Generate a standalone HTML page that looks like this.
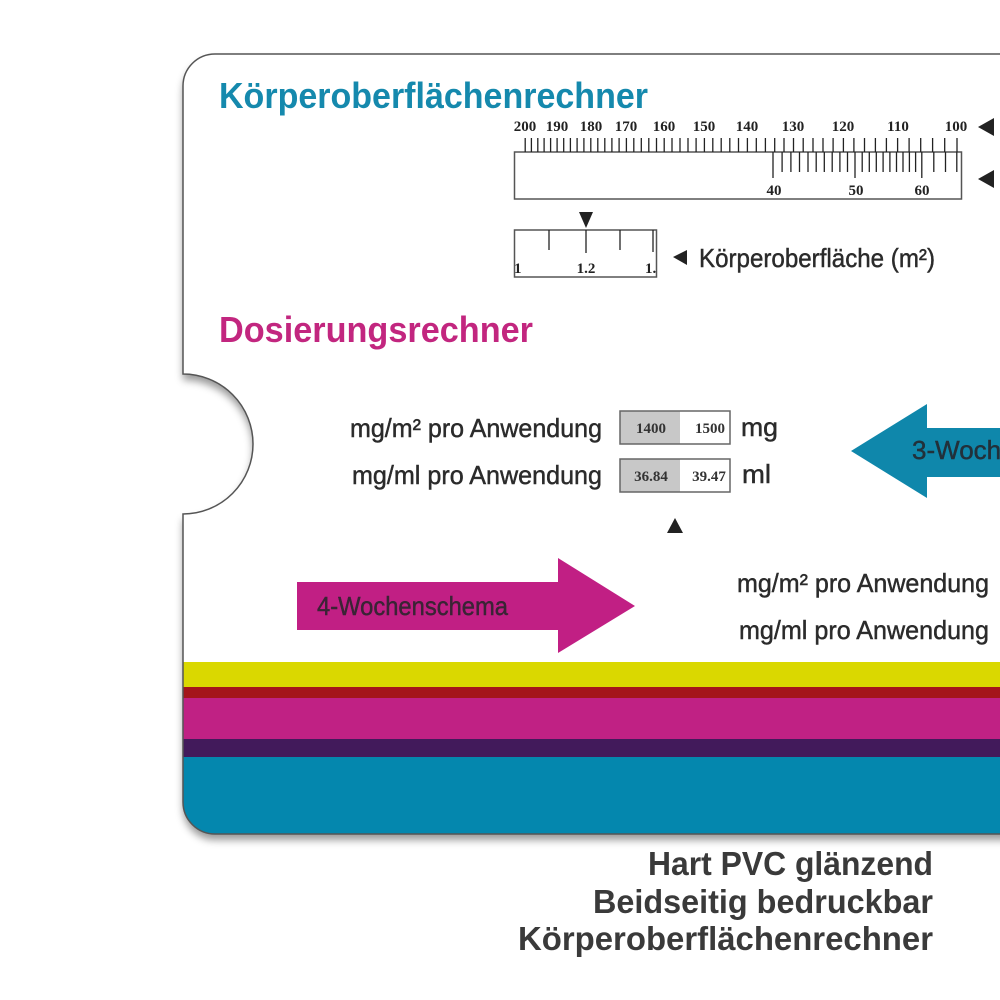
<!DOCTYPE html>
<html>
<head>
<meta charset="utf-8">
<style>
html,body{margin:0;padding:0;background:#fff;}
body{width:1000px;height:1000px;overflow:hidden;}
svg{display:block;}
.lbl{font-family:"Liberation Sans",sans-serif;font-size:26px;fill:#2b2b2b;stroke:#2b2b2b;stroke-width:0.45px;}
.num{font-family:"Liberation Serif",serif;font-weight:bold;font-size:15px;fill:#222;}
.bnum{font-family:"Liberation Serif",serif;font-weight:bold;font-size:15px;fill:#333;}
.t{stroke:#222;stroke-width:1.3;}
.big{font-family:"Liberation Sans",sans-serif;font-weight:bold;font-size:33px;fill:#3a3a3a;}
</style>
</head>
<body>
<svg width="1000" height="1000" viewBox="0 0 1000 1000" xmlns="http://www.w3.org/2000/svg">
<defs>
  <clipPath id="card"><path d="M1030 54 H215 A32 32 0 0 0 183 86 V374 A70 70 0 0 1 183 514 V802 A32 32 0 0 0 215 834 H1030 Z"/></clipPath>
  <filter id="sh" x="-10%" y="-10%" width="130%" height="130%">
    <feDropShadow dx="0" dy="6" stdDeviation="4" flood-color="#000" flood-opacity="0.4"/>
  </filter>
</defs>

<!-- card -->
<path d="M1030 54 H215 A32 32 0 0 0 183 86 V374 A70 70 0 0 1 183 514 V802 A32 32 0 0 0 215 834 H1030 Z" fill="#fff" filter="url(#sh)"/>
<g clip-path="url(#card)">
  <rect x="170" y="662" width="860" height="25" fill="#dad800"/>
  <rect x="170" y="687" width="860" height="11" fill="#a4151a"/>
  <rect x="170" y="698" width="860" height="41" fill="#c02184"/>
  <rect x="170" y="739" width="860" height="18" fill="#421a5b"/>
  <rect x="170" y="757" width="860" height="80" fill="#0487ae"/>
</g>
<path d="M1030 54 H215 A32 32 0 0 0 183 86 V374 A70 70 0 0 1 183 514 V802 A32 32 0 0 0 215 834 H1030 Z" fill="none" stroke="#555" stroke-width="1.5"/>

<!-- Title -->
<text x="219" y="108" font-family="Liberation Sans, sans-serif" font-weight="bold" font-size="36" fill="#1589ad" textLength="429" lengthAdjust="spacingAndGlyphs">Körperoberflächenrechner</text>

<!-- top ruler labels -->
<g class="num" text-anchor="middle">
  <text x="525" y="131">200</text>
  <text x="557" y="131">190</text>
  <text x="591" y="131">180</text>
  <text x="626" y="131">170</text>
  <text x="664" y="131">160</text>
  <text x="704" y="131">150</text>
  <text x="747" y="131">140</text>
  <text x="793" y="131">130</text>
  <text x="843" y="131">120</text>
  <text x="898" y="131">110</text>
  <text x="956" y="131">100</text>
</g>
<!-- right arrows -->
<polygon points="978,127 994,118 994,136" fill="#222"/>
<polygon points="978,179 994,170 994,188" fill="#222"/>

<!-- ruler box -->
<rect x="514.5" y="152" width="447" height="47" fill="#fff" stroke="#555" stroke-width="1.5"/>

<!-- upper ticks (every 2 cm) -->
<g class="t">
<line x1="957" y1="138" x2="957" y2="152"/>
<line x1="944.7" y1="138" x2="944.7" y2="152"/>
<line x1="932.6" y1="138" x2="932.6" y2="152"/>
<line x1="920.7" y1="138" x2="920.7" y2="152"/>
<line x1="909.1" y1="138" x2="909.1" y2="152"/>
<line x1="897.6" y1="138" x2="897.6" y2="152"/>
<line x1="886.4" y1="138" x2="886.4" y2="152"/>
<line x1="875.4" y1="138" x2="875.4" y2="152"/>
<line x1="864.5" y1="138" x2="864.5" y2="152"/>
<line x1="853.9" y1="138" x2="853.9" y2="152"/>
<line x1="843.4" y1="138" x2="843.4" y2="152"/>
<line x1="833.1" y1="138" x2="833.1" y2="152"/>
<line x1="823" y1="138" x2="823" y2="152"/>
<line x1="813" y1="138" x2="813" y2="152"/>
<line x1="803.2" y1="138" x2="803.2" y2="152"/>
<line x1="793.5" y1="138" x2="793.5" y2="152"/>
<line x1="784" y1="138" x2="784" y2="152"/>
<line x1="774.7" y1="138" x2="774.7" y2="152"/>
<line x1="765.4" y1="138" x2="765.4" y2="152"/>
<line x1="756.3" y1="138" x2="756.3" y2="152"/>
<line x1="747.4" y1="138" x2="747.4" y2="152"/>
<line x1="738.5" y1="138" x2="738.5" y2="152"/>
<line x1="729.8" y1="138" x2="729.8" y2="152"/>
<line x1="721.2" y1="138" x2="721.2" y2="152"/>
<line x1="712.8" y1="138" x2="712.8" y2="152"/>
<line x1="704.4" y1="138" x2="704.4" y2="152"/>
<line x1="696.1" y1="138" x2="696.1" y2="152"/>
<line x1="688" y1="138" x2="688" y2="152"/>
<line x1="680" y1="138" x2="680" y2="152"/>
<line x1="672" y1="138" x2="672" y2="152"/>
<line x1="664.2" y1="138" x2="664.2" y2="152"/>
<line x1="656.5" y1="138" x2="656.5" y2="152"/>
<line x1="648.8" y1="138" x2="648.8" y2="152"/>
<line x1="641.3" y1="138" x2="641.3" y2="152"/>
<line x1="633.8" y1="138" x2="633.8" y2="152"/>
<line x1="626.4" y1="138" x2="626.4" y2="152"/>
<line x1="619.1" y1="138" x2="619.1" y2="152"/>
<line x1="611.9" y1="138" x2="611.9" y2="152"/>
<line x1="604.8" y1="138" x2="604.8" y2="152"/>
<line x1="597.8" y1="138" x2="597.8" y2="152"/>
<line x1="590.8" y1="138" x2="590.8" y2="152"/>
<line x1="583.9" y1="138" x2="583.9" y2="152"/>
<line x1="577.1" y1="138" x2="577.1" y2="152"/>
<line x1="570.4" y1="138" x2="570.4" y2="152"/>
<line x1="563.7" y1="138" x2="563.7" y2="152"/>
<line x1="557.1" y1="138" x2="557.1" y2="152"/>
<line x1="550.6" y1="138" x2="550.6" y2="152"/>
<line x1="544.1" y1="138" x2="544.1" y2="152"/>
<line x1="537.8" y1="138" x2="537.8" y2="152"/>
<line x1="531.4" y1="138" x2="531.4" y2="152"/>
<line x1="525.2" y1="138" x2="525.2" y2="152"/>
</g>

<!-- lower ticks (kg) -->
<g class="t">
<line x1="773" y1="152" x2="773" y2="178"/>
<line x1="782.1" y1="152" x2="782.1" y2="172"/>
<line x1="790.9" y1="152" x2="790.9" y2="172"/>
<line x1="799.5" y1="152" x2="799.5" y2="172"/>
<line x1="808" y1="152" x2="808" y2="172"/>
<line x1="816.2" y1="152" x2="816.2" y2="172"/>
<line x1="824.3" y1="152" x2="824.3" y2="172"/>
<line x1="832.2" y1="152" x2="832.2" y2="172"/>
<line x1="839.9" y1="152" x2="839.9" y2="172"/>
<line x1="847.5" y1="152" x2="847.5" y2="172"/>
<line x1="855" y1="152" x2="855" y2="178"/>
<line x1="862.2" y1="152" x2="862.2" y2="172"/>
<line x1="869.3" y1="152" x2="869.3" y2="172"/>
<line x1="876.3" y1="152" x2="876.3" y2="172"/>
<line x1="883.1" y1="152" x2="883.1" y2="172"/>
<line x1="889.9" y1="152" x2="889.9" y2="172"/>
<line x1="896.5" y1="152" x2="896.5" y2="172"/>
<line x1="903" y1="152" x2="903" y2="172"/>
<line x1="909.4" y1="152" x2="909.4" y2="172"/>
<line x1="915.6" y1="152" x2="915.6" y2="172"/>
<line x1="921.8" y1="152" x2="921.8" y2="178"/>
<line x1="933.8" y1="152" x2="933.8" y2="172"/>
<line x1="945.5" y1="152" x2="945.5" y2="172"/>
<line x1="956.8" y1="152" x2="956.8" y2="172"/>
</g>
<g class="num" text-anchor="middle">
  <text x="774" y="195">40</text>
  <text x="856" y="195">50</text>
  <text x="922" y="195">60</text>
</g>

<!-- small ruler -->
<polygon points="579,212 593,212 586,228" fill="#222"/>
<rect x="514.5" y="230" width="142" height="47" fill="#fff" stroke="#555" stroke-width="1.5"/>
<g class="t">
  <line x1="549" y1="230" x2="549" y2="250"/>
  <line x1="586" y1="230" x2="586" y2="253"/>
  <line x1="620" y1="230" x2="620" y2="250"/>
  <line x1="653" y1="230" x2="653" y2="252"/>
</g>
<g class="num">
  <text x="514" y="273">1</text>
  <text x="586" y="273" text-anchor="middle">1.2</text>
  <text x="645" y="273">1.</text>
</g>
<polygon points="673,257 687,250 687,265" fill="#222"/>
<text class="lbl" x="699" y="267" textLength="236" lengthAdjust="spacingAndGlyphs">Körperoberfläche (m²)</text>

<!-- Dosierungsrechner -->
<text x="219" y="342" font-family="Liberation Sans, sans-serif" font-weight="bold" font-size="36" fill="#c2267f" textLength="314" lengthAdjust="spacingAndGlyphs">Dosierungsrechner</text>

<!-- rows -->
<text class="lbl" x="350" y="437" textLength="252" lengthAdjust="spacingAndGlyphs">mg/m² pro Anwendung</text>
<text class="lbl" x="352" y="484" textLength="250" lengthAdjust="spacingAndGlyphs">mg/ml pro Anwendung</text>

<rect x="620" y="411" width="60" height="33" fill="#c8c8c8"/>
<rect x="620" y="411" width="110" height="33" fill="none" stroke="#666" stroke-width="1.5"/>
<rect x="620" y="459" width="60" height="33" fill="#c8c8c8"/>
<rect x="620" y="459" width="110" height="33" fill="none" stroke="#666" stroke-width="1.5"/>
<g class="bnum" text-anchor="middle">
  <text x="651" y="433">1400</text>
  <text x="710" y="433">1500</text>
  <text x="651" y="481">36.84</text>
  <text x="709" y="481">39.47</text>
</g>
<text class="lbl" x="741" y="436" textLength="37" lengthAdjust="spacingAndGlyphs">mg</text>
<text class="lbl" x="742" y="483" textLength="29" lengthAdjust="spacingAndGlyphs">ml</text>

<polygon points="667,533 683,533 675,518" fill="#222"/>

<!-- teal arrow (left) -->
<polygon points="851,451 927,404 927,428 1010,428 1010,477 927,477 927,498" fill="#0f87ab"/>
<text class="lbl" x="912" y="459" style="fill:#22303a;stroke:#22303a">3-Wochenschema</text>

<!-- magenta arrow (right) -->
<polygon points="297,582 558,582 558,558 635,606 558,653 558,630 297,630" fill="#c11f84"/>
<text class="lbl" x="317" y="615" textLength="191" lengthAdjust="spacingAndGlyphs" style="fill:#3a2435;stroke:#3a2435">4-Wochenschema</text>

<text class="lbl" x="737" y="592" textLength="252" lengthAdjust="spacingAndGlyphs">mg/m² pro Anwendung</text>
<text class="lbl" x="739" y="639" textLength="250" lengthAdjust="spacingAndGlyphs">mg/ml pro Anwendung</text>

<!-- bottom text -->
<text class="big" x="648" y="875" textLength="285" lengthAdjust="spacingAndGlyphs">Hart PVC glänzend</text>
<text class="big" x="593" y="913" textLength="340" lengthAdjust="spacingAndGlyphs">Beidseitig bedruckbar</text>
<text class="big" x="518" y="950" textLength="415" lengthAdjust="spacingAndGlyphs">Körperoberflächenrechner</text>
</svg>
</body>
</html>
